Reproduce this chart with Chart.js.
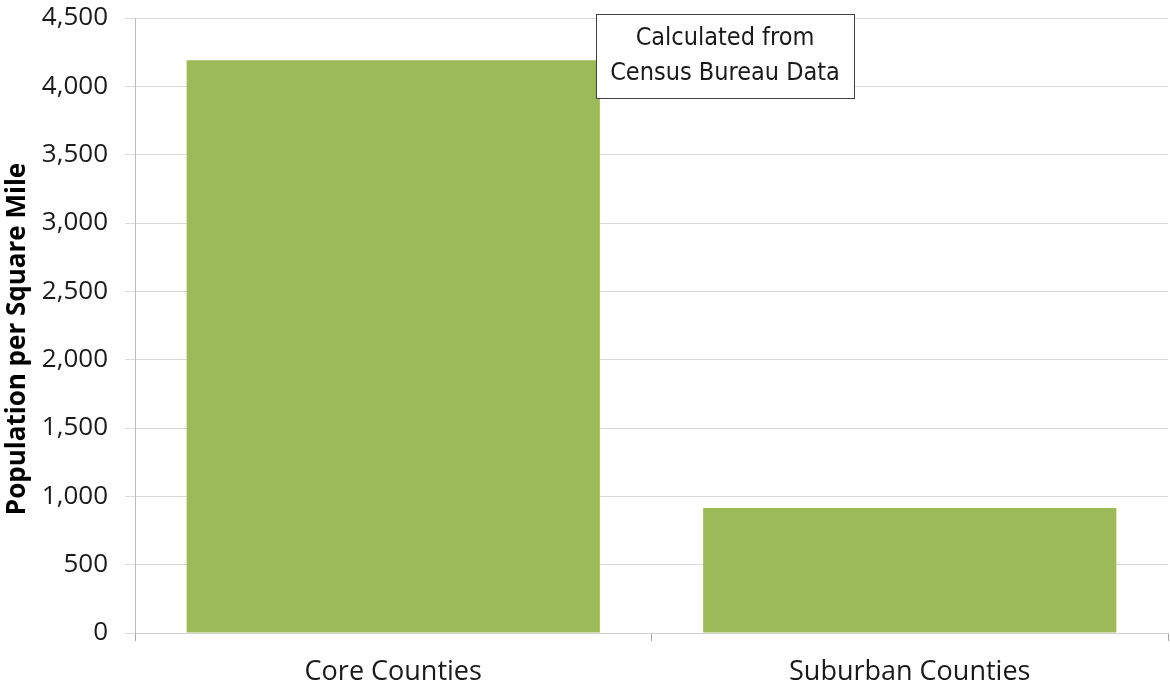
<!DOCTYPE html>
<html>
<head>
<meta charset="utf-8">
<script src="https://cdn.jsdelivr.net/npm/chart.js@4/dist/chart.umd.min.js"></script>
<style>
html,body{margin:0;padding:0;background:#fff;}
#wrap{width:1170px;height:688px;position:relative;}
</style>
</head>
<body>
<div id="wrap"><canvas id="c" width="1170" height="688"></canvas></div>
<script>
const categories = ["Core Counties", "Suburban Counties"];
const densityValues = [4190, 915];
const yTicks = [0, 500, 1000, 1500, 2000, 2500, 3000, 3500, 4000, 4500];
const yTitle = "Population per Square Mile";
const noteLines = ["Calculated from", "Census Bureau Data"];

const noteBox = {
  id: 'noteBox',
  afterDatasetsDraw(chart) {
    const ctx = chart.ctx;
    const a = chart.chartArea;
    const x0 = a.left + 461, y0 = a.top - 4, w = 258, h = 84;
    ctx.save();
    ctx.fillStyle = '#ffffff';
    ctx.fillRect(x0, y0, w, h);
    ctx.strokeStyle = '#404040';
    ctx.lineWidth = 1;
    ctx.strokeRect(x0 + 0.5, y0 + 0.5, w, h);
    ctx.fillStyle = '#1a1a1a';
    ctx.font = '25px "Liberation Sans Narrow", "Arial Narrow", "DejaVu Sans Condensed", sans-serif';
    ctx.textAlign = 'center';
    ctx.textBaseline = 'middle';
    ctx.fillText(noteLines[0], x0 + w / 2, y0 + 24);
    ctx.fillText(noteLines[1], x0 + w / 2, y0 + 59);
    ctx.restore();
  }
};

const yTitlePlugin = {
  id: 'yTitlePlugin',
  afterDraw(chart) {
    const ctx = chart.ctx;
    const a = chart.chartArea;
    ctx.save();
    ctx.translate(18, (a.top + chart.height) / 2 - 14);
    ctx.rotate(-Math.PI / 2);
    ctx.fillStyle = '#000';
    ctx.font = 'bold 26px "Open Sans", sans-serif';
    ctx.textAlign = 'center';
    ctx.textBaseline = 'middle';
    ctx.fillText(yTitle, 0, 0);
    ctx.restore();
  }
};

new Chart(document.getElementById('c'), {
  type: 'bar',
  data: {
    labels: categories,
    datasets: [{
      data: densityValues,
      backgroundColor: '#9bbb59',
      borderWidth: 0,
      barPercentage: 0.8,
      categoryPercentage: 1.0
    }]
  },
  options: {
    responsive: false,
    animation: false,
    devicePixelRatio: 1,
    layout: { padding: { top: 18, right: 2, left: 0, bottom: 0 } },
    plugins: { legend: { display: false }, tooltip: { enabled: false } },
    scales: {
      x: {
        type: 'category',
        offset: true,
        grid: { offset: true, drawOnChartArea: false, drawTicks: true, tickLength: 8, color: '#a6a6a6' },
        border: { color: '#d0d0d0', width: 1 },
        ticks: { color: '#1a1a1a', font: { family: '"Open Sans", sans-serif', size: 27 }, padding: 15, maxRotation: 0 },
        afterFit(s) { s.height = 55; }
      },
      y: {
        min: 0,
        max: 4500,
        afterBuildTicks(s) { s.ticks = yTicks.map(v => ({ value: v })); },
        grid: { color: '#d9d9d9', tickLength: 10 },
        border: { color: '#bdbdbd', width: 1 },
        ticks: {
          color: '#1a1a1a',
          font: { family: '"Open Sans", sans-serif', size: 26 },
          padding: 17,
          callback: v => Number(v).toLocaleString('en-US')
        },
        title: { display: false },
        afterFit(s) { s.width = 135; s.paddingTop = 0; s.paddingBottom = 0; }
      }
    }
  },
  plugins: [noteBox, yTitlePlugin]
});
</script>
</body>
</html>
